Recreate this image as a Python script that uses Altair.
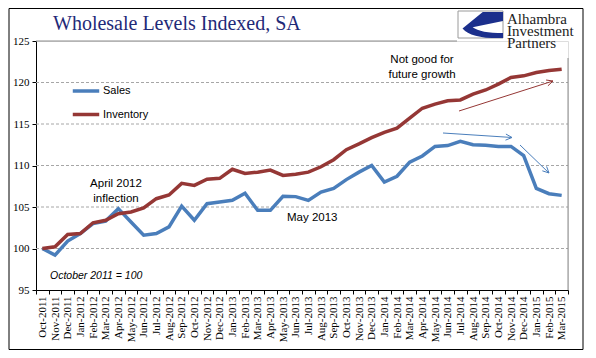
import altair as alt
import pandas as pd
import math

months = ["Oct-2011", "Nov-2011", "Dec-2011", "Jan-2012", "Feb-2012", "Mar-2012", "Apr-2012",
          "May-2012", "Jun-2012", "Jul-2012", "Aug-2012", "Sep-2012", "Oct-2012", "Nov-2012",
          "Dec-2012", "Jan-2013", "Feb-2013", "Mar-2013", "Apr-2013", "May-2013", "Jun-2013",
          "Jul-2013", "Aug-2013", "Sep-2013", "Oct-2013", "Nov-2013", "Dec-2013", "Jan-2014",
          "Feb-2014", "Mar-2014", "Apr-2014", "May-2014", "Jun-2014", "Jul-2014", "Aug-2014",
          "Sep-2014", "Oct-2014", "Nov-2014", "Dec-2014", "Jan-2015", "Feb-2015", "Mar-2015"]

sales = [100.0, 99.2, 100.9, 101.8, 103.0, 103.3, 104.8, 103.2, 101.6, 101.8, 102.6, 105.1,
         103.4, 105.4, 105.6, 105.8, 106.65, 104.6, 104.6, 106.3, 106.25, 105.8, 106.8, 107.25,
         108.3, 109.2, 110.0, 108.0, 108.7, 110.4, 111.15, 112.3, 112.4, 112.9, 112.5, 112.45,
         112.3, 112.3, 111.2, 107.25, 106.6, 106.4]

inventory = [100.0, 100.2, 101.7, 101.8, 103.1, 103.4, 104.2, 104.4, 104.9, 106.0, 106.45, 107.85,
             107.6, 108.35, 108.45, 109.55, 109.05, 109.2, 109.45, 108.8, 108.95, 109.2, 109.85,
             110.7, 111.9, 112.6, 113.35, 114.0, 114.5, 115.7, 116.9, 117.4, 117.8, 117.9, 118.6,
             119.1, 119.8, 120.6, 120.8, 121.2, 121.45, 121.6]

series_names = ["Sales", "Inventory"]
series_colors = ["#4A7EBB", "#953735"]
y_ticks = [95, 100, 105, 110, 115, 120, 125]
grid_values = [100, 105, 110, 115, 120]

W, H = 532, 249

df = pd.DataFrame({
    "Month": months * 2,
    "Series": ["Sales"] * len(months) + ["Inventory"] * len(months),
    "Value": sales + inventory,
})

ysc = alt.Scale(domain=[95, 125], nice=False, zero=False)

lines = alt.Chart(df).mark_line(strokeWidth=3.5, strokeJoin="miter").encode(
    x=alt.X("Month:N", sort=months, bandPosition=0.5,
            scale=alt.Scale(type="band", paddingInner=0, paddingOuter=0),
            axis=alt.Axis(title=None, labelAngle=270, labelFont="Liberation Serif", labelFontSize=11,
                          labelColor="black", tickBand="extent", tickColor="black", tickSize=4,
                          domainColor="black", labelPadding=2, grid=False)),
    y=alt.Y("Value:Q", scale=ysc,
            axis=alt.Axis(title=None, values=y_ticks, labelFont="Liberation Serif", labelFontSize=11,
                          labelColor="black", tickColor="black", tickSize=4, domainColor="black",
                          labelPadding=3, grid=False)),
    color=alt.Color("Series:N", scale=alt.Scale(domain=series_names, range=series_colors),
                    legend=alt.Legend(title=None, orient="none", legendX=35, legendY=35,
                                      symbolType="stroke", symbolSize=700, symbolStrokeWidth=3.5,
                                      labelFont="Liberation Sans", labelFontSize=11, labelColor="black",
                                      labelOffset=2, rowPadding=1.5, padding=0)),
    detail="Series:N",
)

grid = alt.Chart(pd.DataFrame({"g": grid_values})).mark_rule(
    color="#a6a6a6", strokeWidth=1, strokeDash=[3, 2]).encode(
    y=alt.Y("g:Q", scale=ysc), x=alt.value(0), x2=alt.value(W))

top_line = alt.Chart(pd.DataFrame({"t": [125]})).mark_rule(color="#8c8c8c", strokeWidth=1).encode(
    y=alt.Y("t:Q", scale=ysc), x=alt.value(0), x2=alt.value(421))

right_line = alt.Chart(pd.DataFrame({"r": [0]})).mark_rule(color="#8c8c8c", strokeWidth=1).encode(
    x=alt.value(W), y=alt.value(17), y2=alt.value(H))

base = alt.layer(grid, top_line, right_line, lines)


def arrow(x1, y1, x2, y2, head=7, spread=0.45):
    ang = math.atan2(y2 - y1, x2 - x1)
    segs = [(x1, y1, x2, y2)]
    for s in (spread, -spread):
        a = ang + math.pi - s
        segs.append((x2, y2, x2 + head * math.cos(a), y2 + head * math.sin(a)))
    return segs


def arrow_layer(segs, color):
    d = pd.DataFrame(segs, columns=["x", "y", "x2", "y2"])
    return alt.Chart(d).mark_rule(color=color, strokeWidth=1).encode(
        x=alt.X("x:Q", scale=None, axis=None), y=alt.Y("y:Q", scale=None, axis=None),
        x2="x2:Q", y2="y2:Q")


red_arrow = arrow_layer(arrow(423, 70, 517, 40), "#953735")
blue_arrow1 = arrow_layer(arrow(407, 92, 476, 96.5), "#4A7EBB")
blue_arrow2 = arrow_layer(arrow(484, 104, 513, 132), "#4A7EBB")


def text_layer(xs, ys, texts, **kw):
    d = pd.DataFrame({"x": xs, "y": ys, "t": texts})
    return alt.Chart(d).mark_text(**kw).encode(
        x=alt.X("x:Q", scale=None, axis=None), y=alt.Y("y:Q", scale=None, axis=None), text="t:N")


notes = text_layer([386, 386, 80, 80], [19, 34, 143, 158],
                   ["Not good for", "future growth", "April 2012", "inflection"],
                   font="Liberation Sans", fontSize=11.5, color="black", align="center", baseline="middle")
notes_left = text_layer([251], [177], ["May 2013"], font="Liberation Sans", fontSize=11.5,
                        color="black", align="left", baseline="middle")
base_note = text_layer([14], [235], ["October 2011 = 100"], font="Liberation Sans", fontSize=10.5,
                       fontStyle="italic", color="black", align="left", baseline="middle")
title = text_layer([17], [-17], ["Wholesale Levels Indexed, SA"], font="Liberation Serif", fontSize=20,
                   color="#1f2a78", align="left", baseline="middle")

# logo
logo_box = alt.Chart(pd.DataFrame({"x": [422], "x2": [467], "y": [-30], "y2": [-3]})).mark_rect(
    fill="white", stroke="#9a9a9a", strokeWidth=1).encode(
    x=alt.X("x:Q", scale=None, axis=None), x2="x2:Q", y=alt.Y("y:Q", scale=None, axis=None), y2="y2:Q")
swoosh_path = ("M1,-0.58 L0.1,-0.58 L-0.8,0.15 Q-0.4,0.62 1,0.58 L1,0.36 "
               "Q0.0,0.36 -0.35,0.1 L1,-0.18 Z")
logo_mark = alt.Chart(pd.DataFrame({"x": [444.5], "y": [-16]})).mark_point(
    shape=swoosh_path, size=2025, filled=True, color="#1b2f8c", opacity=1, strokeWidth=0).encode(
    x=alt.X("x:Q", scale=None, axis=None), y=alt.Y("y:Q", scale=None, axis=None))
logo_text = text_layer([471, 471, 471], [-22.5, -10, 2], ["Alhambra", "Investment", "Partners"],
                       font="Liberation Serif", fontSize=15, color="#222222", align="left",
                       baseline="middle")

border = alt.Chart(pd.DataFrame({"x": [-27], "x2": [547], "y": [-32.5], "y2": [308.5]})).mark_rect(
    fill=None, stroke="black", strokeWidth=1).encode(
    x=alt.X("x:Q", scale=None, axis=None), x2="x2:Q", y=alt.Y("y:Q", scale=None, axis=None), y2="y2:Q")

chart = alt.layer(
    base, red_arrow, blue_arrow1, blue_arrow2,
    notes, notes_left, base_note, title, logo_box, logo_mark, logo_text, border
).resolve_scale(x="independent", y="independent").properties(
    width=W, height=H,
    autosize=alt.AutoSizeParams(type="none"),
    padding={"left": 28, "top": 33, "right": 20, "bottom": 60},
).configure_view(stroke=None).configure(background="white")

chart.save("out.html", embed_options={"renderer": "svg", "actions": False})
